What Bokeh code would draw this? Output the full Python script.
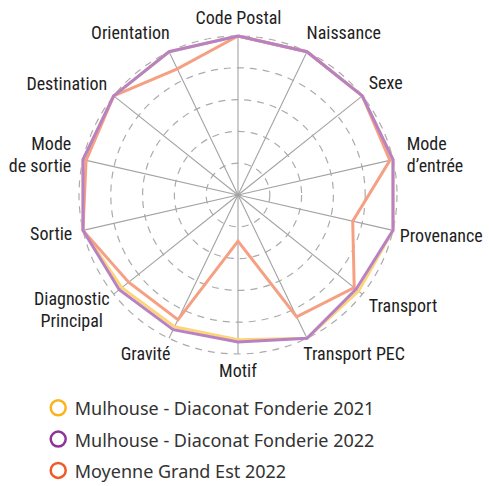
import math
from bokeh.plotting import figure
from bokeh.models import Range1d
from bokeh.core.properties import value
from bokeh.embed import file_html
from bokeh.resources import INLINE

# ---- data ----
categories = ["Code Postal", "Naissance", "Sexe", "Mode\nd\u2019entrée", "Provenance",
              "Transport", "Transport PEC", "Motif", "Gravité", "Diagnostic\nPrincipal",
              "Sortie", "Mode\nde sortie", "Destination", "Orientation"]
diaconat_2021 = [100, 100, 100, 100, 100, 97, 100, 91, 92, 93.5, 100, 100, 100, 100]
diaconat_2022 = [100, 100, 100, 100, 100, 95, 100, 92.5, 94, 95.5, 100, 100, 100, 100]
moyenne_ge_2022 = [100, 100, 100, 98, 74, 93.5, 85, 29, 87, 88, 100, 98, 100, 88]
grid_levels = [20, 40, 60, 80, 100]
series_names = ["Mulhouse - Diaconat Fonderie 2021",
                "Mulhouse - Diaconat Fonderie 2022",
                "Moyenne Grand Est 2022"]

# ---- style ----
W, H = 489, 486
CX, CY, R = 237.5, 194.5, 159.0
line_colors = ["#FDD47A", "#B881C4", "#F6A083"]
marker_colors = ["#FBB31B", "#8F3399", "#F05A28"]
label_font = "Liberation Sans Narrow, Roboto Condensed, DejaVu Sans Condensed, sans-serif"
legend_font = "Noto Sans"
label_align = ["center", "left", "left", "left", "left", "left", "left", "center",
               "right", "center", "right", "right", "right", "right"]
label_nudge = [(0.5, -7), (-5.7, -8.4), (-3, -5.4), (2, -2), (-5, 2.5), (-3, 3.5),
               (-9, 4.5), (0, 4.5), (6.7, 4.5), (-32.5, 8), (1, 0), (0, -2), (3, -5), (6, -8)]

p = figure(width=W, height=H, output_backend="svg", toolbar_location=None,
           x_range=Range1d(0, W), y_range=Range1d(H, 0), min_border=0)
p.axis.visible = False
p.grid.visible = False
p.outline_line_color = None
p.background_fill_color = "white"
p.border_fill_color = "white"

n = len(categories)
angles = [2 * math.pi * i / n for i in range(n)]
sx = [math.sin(a) for a in angles]
cy_ = [math.cos(a) for a in angles]

def to_xy(vals):
    xs = [CX + v / 100 * R * s for v, s in zip(vals, sx)]
    ys = [CY - v / 100 * R * c for v, c in zip(vals, cy_)]
    return xs + xs[:1], ys + ys[:1]

# grid circles
p.circle(x=[CX] * len(grid_levels), y=[CY] * len(grid_levels),
         radius=[g / 100 * R for g in grid_levels], fill_color=None,
         line_color="#ABABAB", line_width=1.2, line_dash="7 6")
# spokes
p.segment(x0=[CX] * n, y0=[CY] * n, x1=[CX + R * s for s in sx],
          y1=[CY - R * c for c in cy_], line_color="#A3A3A3", line_width=1.1)

# series (draw order: 2021, Grand Est, 2022 on top)
for vals, col in [(diaconat_2021, line_colors[0]), (moyenne_ge_2022, line_colors[2]),
                  (diaconat_2022, line_colors[1])]:
    xs, ys = to_xy(vals)
    p.line(xs, ys, line_color=col, line_width=3, line_join="miter")

# category labels
pad = 12
for i, lab in enumerate(categories):
    x = CX + (R + pad) * sx[i] + label_nudge[i][0]
    y = CY - (R + pad) * cy_[i] + label_nudge[i][1]
    p.text(x=[x], y=[y], text=[lab], text_font=value(label_font), text_font_size="18px",
           text_color="#1E1E1E", text_align=label_align[i], text_baseline="middle",
           text_line_height=1.05)

# legend
LX, LY, LDY = 57.7, 407.3, 31.3
for k, name in enumerate(series_names):
    y = LY + k * LDY
    p.scatter(x=[LX], y=[y], marker="circle", size=15, fill_color="white",
              line_color=marker_colors[k], line_width=2.5)
    p.text(x=[LX + 16.5], y=[y + 0.5], text=[name], text_font=value(legend_font),
           text_font_size="18px", text_color="#333333", text_baseline="middle")

open("out.html", "w").write(file_html(p, INLINE))
